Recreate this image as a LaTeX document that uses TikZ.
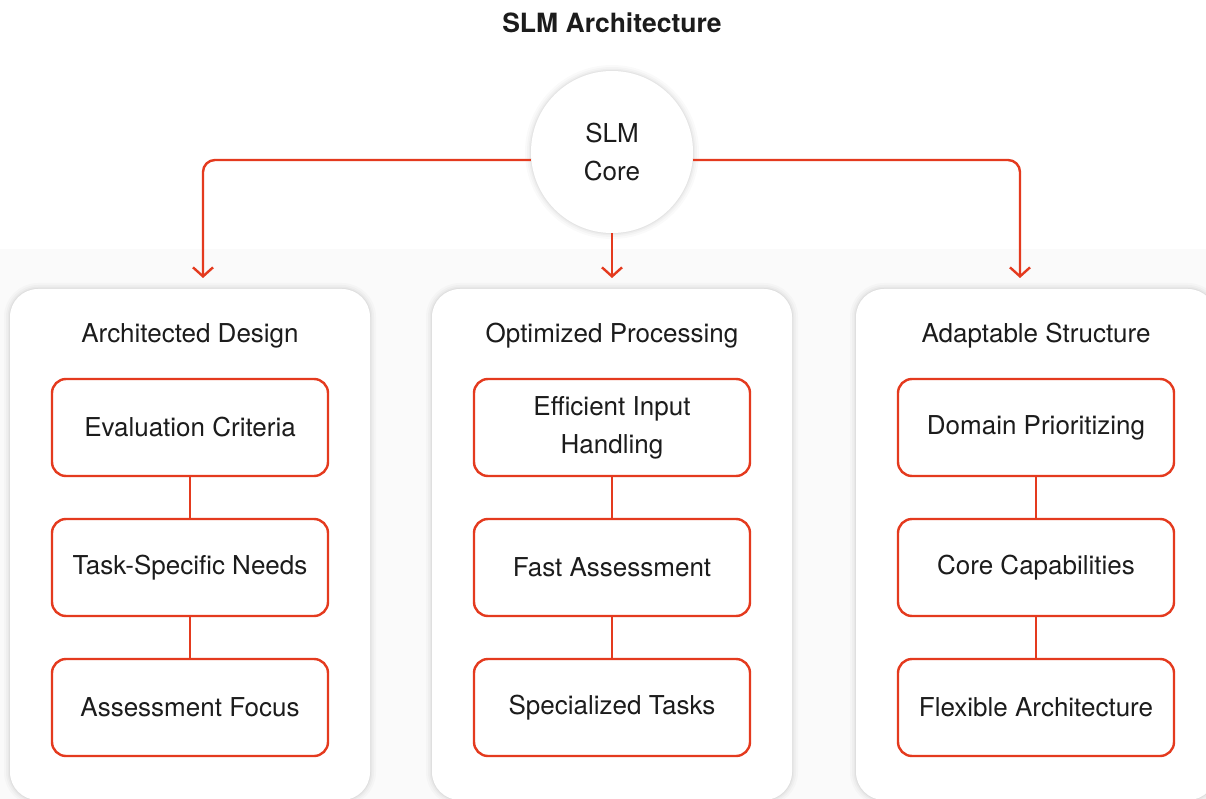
\documentclass[tikz,border=0pt]{standalone}
\usepackage{fontspec}
\setmainfont{TeX Gyre Heros}
\usepackage{tikz}
\usetikzlibrary{arrows.meta}
\definecolor{slmred}{HTML}{E43A1E}
\definecolor{stagebg}{HTML}{FAFAFA}
\definecolor{inktext}{HTML}{1C1C1C}

\tikzset{
	softshadow/.style={
		preaction={draw=black, opacity=.018, line width=12pt},
		preaction={draw=black, opacity=.022, line width=8pt},
		preaction={draw=black, opacity=.028, line width=4.5pt},
		preaction={draw=black, opacity=.035, line width=2pt}}
}

\begin{document}
\begin{tikzpicture}[x=1pt,y=-1pt,
	every node/.style={text=inktext, font=\fontsize{26}{38}\selectfont},
	panel/.style={fill=white, rounded corners=28pt, minimum width=360pt, minimum height=511pt, softshadow},
	itembox/.style={draw=slmred, line width=2.4pt, fill=white, rounded corners=14pt,
		minimum width=276pt, minimum height=97pt, align=center},
	corebox/.style={circle, fill=white, minimum size=162pt, align=center, softshadow},
	link/.style={slmred, line width=2.4pt},
	flow/.style={link, rounded corners=12pt, -{Straight Barb[length=9pt,width=20pt]}}]

	\useasboundingbox (0,0) rectangle (1206,799);
	\clip (0,0) rectangle (1206,799);
	\fill[white] (0,0) rectangle (1206,799);
	\fill[stagebg] (0,249) rectangle (1206,799);

	\node[font=\fontsize{26.5}{30}\selectfont\bfseries] (title) at (612,23) {SLM Architecture};

	% the three columns
	\foreach \px/\pname/\ptitle/\ia/\ib/\ic in {
		190/design/Architected Design/Evaluation Criteria/Task-Specific Needs/Assessment Focus,
		612/proc/Optimized Processing/{Efficient Input\\Handling}/Fast Assessment/Specialized Tasks,
		1036/struct/Adaptable Structure/Domain Prioritizing/Core Capabilities/Flexible Architecture} {
		\node[panel] (\pname) at (\px,544.5) {};
		\node (\pname-title) at (\px,336) {\ptitle};
		\node[itembox] (\pname-1) at (\px,427.5) {\ia};
		\node[itembox] (\pname-2) at (\px,567.5) {\ib};
		\node[itembox] (\pname-3) at (\px,707.5) {\ic};
		\draw[link] (\pname-1) -- (\pname-2);
		\draw[link] (\pname-2) -- (\pname-3);
	}

	\node[corebox] (core) at (612,152) {SLM\\Core};

	\coordinate (tipL) at (203,278);
	\coordinate (tipM) at (612,278);
	\coordinate (tipR) at (1020,278);

	\draw[flow] ([yshift=-8pt]core.west) -| (tipL);
	\draw[flow] (core.south) -- (tipM);
	\draw[flow] ([yshift=-8pt]core.east) -| (tipR);

\end{tikzpicture}
\end{document}
